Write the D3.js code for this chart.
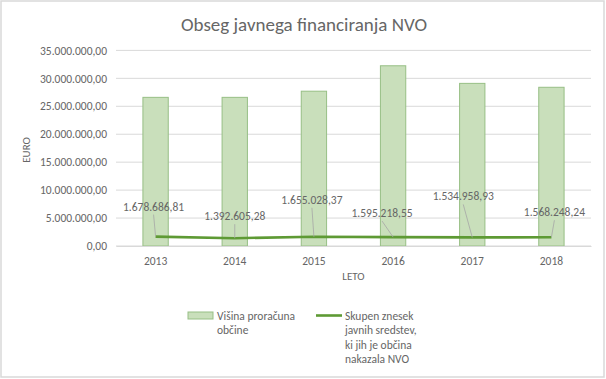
<!DOCTYPE html>
<html><head><meta charset="utf-8">
<script src="https://cdn.jsdelivr.net/npm/d3@7"></script>
<style>
html,body{margin:0;padding:0;background:#fff;}
svg{display:block;font-family:Carlito, Lato, "Liberation Sans", sans-serif;}
</style></head>
<body><svg id="c" width="606" height="379"></svg>
<script>
const years = ["2013","2014","2015","2016","2017","2018"];
const budget = [26600000, 26600000, 27700000, 32250000, 29100000, 28400000];
const funding = [1678686.81, 1392605.28, 1655028.37, 1595218.55, 1534958.93, 1568248.24];
const fundingLabels = ["1.678.686,81","1.392.605,28","1.655.028,37","1.595.218,55","1.534.958,93","1.568.248,24"];
const yTicks = [0, 5000000, 10000000, 15000000, 20000000, 25000000, 30000000, 35000000];
const title = "Obseg javnega financiranja NVO";
const legendBar = ["Višina proračuna", "občine"];
const legendLine = ["Skupen znesek", "javnih sredstev,", "ki jih je občina", "nakazala NVO"];

// layout (manually placed label offsets, px)
const labelOffsets = [[-2,-30],[0,-22],[-2,-37],[-11,-24],[-9,-41],[3,-25]];

const svg = d3.select("#c");
const gray = "#666666";
svg.append("rect").attr("x",1).attr("y",1).attr("width",603).attr("height",376)
  .attr("fill","#fff").attr("stroke","#d9d9d9").attr("stroke-width",1.5);

const x = d3.scaleBand().domain(years).range([116, 591]).paddingInner(0.68).paddingOuter(0.34);
const y = d3.scaleLinear().domain([0, 35000000]).range([246, 50.4]);

// gridlines
svg.append("g").selectAll("line").data(yTicks).join("line")
  .attr("x1",116).attr("x2",591).attr("y1",d=>y(d)).attr("y2",d=>y(d))
  .attr("stroke","#d9d9d9").attr("stroke-width",1);

const fmt = d => d3.format(",.2f")(d).replace(/,/g,"#").replace(/\./g,",").replace(/#/g,".");
const yAxis = d3.axisLeft(y).tickValues(yTicks).tickFormat(fmt).tickSize(0).tickPadding(9);
const ga = svg.append("g").attr("transform","translate(116,0)").call(yAxis);
ga.select(".domain").remove();
ga.selectAll("text").attr("fill",gray).attr("font-size",11.5).attr("font-family","Carlito, Lato, sans-serif");

// bars
svg.append("g").selectAll("rect").data(budget).join("rect")
  .attr("x",(d,i)=>x(years[i])).attr("width",x.bandwidth())
  .attr("y",d=>y(d)).attr("height",d=>y(0)-y(d))
  .attr("fill","#c9dfbb").attr("stroke","#97bf85").attr("stroke-width",1);

// x axis
const xAxis = d3.axisBottom(x).tickSize(0).tickPadding(11);
const gx = svg.append("g").attr("transform","translate(0,246)").call(xAxis);
gx.select(".domain").attr("stroke","#d9d9d9");
gx.selectAll("text").attr("fill",gray).attr("font-size",11.5).attr("font-family","Carlito, Lato, sans-serif");

// line
const cx = i => x(years[i]) + x.bandwidth()/2;
const line = d3.line().x((d,i)=>cx(i)).y(d=>y(d));
svg.append("path").datum(funding).attr("d",line).attr("fill","none")
  .attr("stroke","#5e9a34").attr("stroke-width",2.6).attr("stroke-linejoin","round");

// leader lines and labels
const lab = svg.append("g");
funding.forEach((v,i)=>{
  const px = cx(i), py = y(v);
  const lx = px + labelOffsets[i][0], ly = py + labelOffsets[i][1];
  lab.append("line").attr("x1",lx).attr("y1",ly+8).attr("x2",px).attr("y2",py)
    .attr("stroke","#a6a6a6").attr("stroke-width",0.8);
  lab.append("text").attr("x",lx).attr("y",ly+4).attr("text-anchor","middle")
    .attr("fill",gray).attr("font-size",11.5).text(fundingLabels[i]);
});

// title
svg.append("text").attr("x",304).attr("y",31).attr("text-anchor","middle")
  .attr("fill",gray).attr("font-size",19).text(title);

// axis titles
svg.append("text").attr("transform","translate(30,150) rotate(-90)").attr("text-anchor","middle")
  .attr("fill",gray).attr("font-size",11).text("EURO");
svg.append("text").attr("x",353.5).attr("y",280).attr("text-anchor","middle")
  .attr("fill",gray).attr("font-size",11).text("LETO");

// legend
const lg = svg.append("g");
lg.append("rect").attr("x",188).attr("y",312).attr("width",25).attr("height",7)
  .attr("fill","#c9dfbb").attr("stroke","#97bf85");
lg.append("text").attr("fill",gray).attr("font-size",11.5)
  .selectAll("tspan").data(legendBar).join("tspan")
  .attr("x",217).attr("y",(d,i)=>320+i*14.3).text(d=>d);
lg.append("line").attr("x1",316).attr("x2",342).attr("y1",315.5).attr("y2",315.5)
  .attr("stroke","#5e9a34").attr("stroke-width",2.6);
lg.append("text").attr("fill",gray).attr("font-size",11.5)
  .selectAll("tspan").data(legendLine).join("tspan")
  .attr("x",345).attr("y",(d,i)=>320+i*14.3).text(d=>d);
</script></body></html>
